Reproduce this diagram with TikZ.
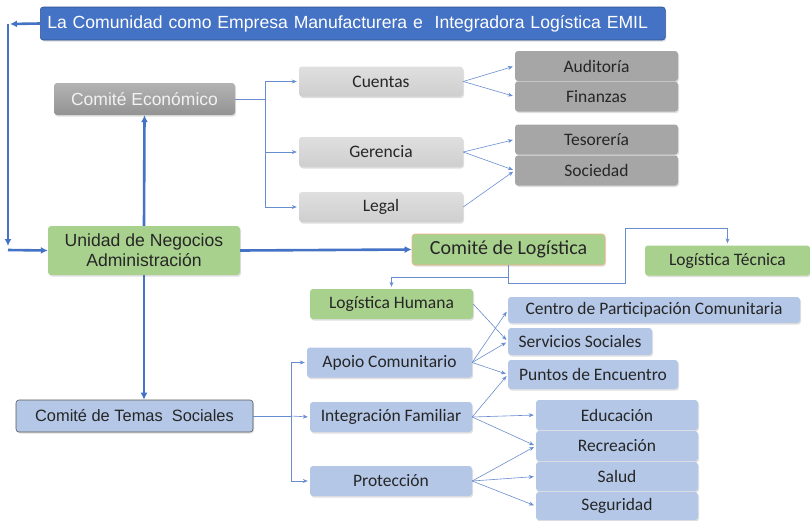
\documentclass[tikz,border=0pt]{standalone}
\usepackage{fontspec}
\setmainfont{Carlito}
\newfontfamily\arialfont{Liberation Sans}
\usetikzlibrary{arrows.meta,shadows}

\definecolor{linkblue}{HTML}{4472C4}
\definecolor{titleblue}{HTML}{4472C4}
\definecolor{titleedge}{HTML}{2F528F}
\definecolor{boxgreen}{HTML}{A9D18E}
\definecolor{boxblue}{HTML}{B4C7E7}
\definecolor{boxgray}{HTML}{A6A6A6}
\definecolor{orangeedge}{HTML}{F4B183}
\definecolor{inktext}{HTML}{262626}

\tikzset{
  box/.style={rounded corners=3pt, inner sep=0pt, minimum height=30pt,
    text=inktext, font=\fontsize{17.5}{19}\selectfont,
    drop shadow={opacity=0.25, shadow xshift=1pt, shadow yshift=-1.5pt}},
  greenbox/.style={box, fill=boxgreen},
  bluebox/.style={box, fill=boxblue},
  graybox/.style={box, fill=boxgray},
  lightbox/.style={box, top color=gray!25, bottom color=gray!38},
  bigarr/.style={draw=linkblue, line width=2.6pt, -{Latex[length=7pt,width=7pt]}},
  thinline/.style={draw=linkblue!80, line width=0.6pt},
  thinarr/.style={thinline, -{Stealth[length=5pt,width=4pt]}, shorten >=2pt}
}

\begin{document}
\begin{tikzpicture}[x=1pt, y=-1pt]
    \useasboundingbox (0,0) rectangle (810,520);

    % Titel
    \node[box, fill=titleblue, draw=titleedge, line width=0.6pt, text=white,
      minimum width=625pt, minimum height=33pt, anchor=west, text width=611pt,
      align=left, font=\arialfont\fontsize{17.6}{20}\selectfont]
      (title) at (40,23.5) {La Comunidad como Empresa Manufacturera e\ \ Integradora Logística EMIL};

    % Comité Económico
    \node[box, top color=gray!60, bottom color=gray!85, text=white!95!black,
      minimum width=181pt, minimum height=32pt, font=\arialfont\fontsize{17.5}{19}\selectfont]
      (eco) at (144.5,99) {Comité Económico};
    \node[lightbox, minimum width=164pt] (cuentas) at (381,81.5) {Cuentas};
    \node[lightbox, minimum width=164pt] (gerencia) at (381,152) {Gerencia};
    \node[lightbox, minimum width=164pt] (legal) at (381,207) {Legal};
    \node[graybox, minimum width=163pt] (auditoria) at (596.5,66) {Auditoría};
    \node[graybox, minimum width=163pt] (finanzas) at (596.5,96.5) {Finanzas};
    \node[graybox, minimum width=163pt] (tesoreria) at (596.5,139.5) {Tesorería};
    \node[graybox, minimum width=163pt] (sociedad) at (596.5,170.5) {Sociedad};

    % Unidad de Negocios
    \node[greenbox, minimum width=192pt, minimum height=49pt, align=center,
      font=\arialfont\fontsize{17.6}{20}\selectfont]
      (unidad) at (144,250.5) {Unidad de Negocios\\Administración};

    % Logística
    \node[greenbox, draw=orangeedge, line width=0.6pt, minimum width=193pt,
      minimum height=31pt, font=\fontsize{20}{22}\selectfont]
      (comlog) at (508.5,249.5) {Comité de Logística};
    \node[greenbox, minimum width=165pt] (logtec) at (727.5,260.5) {Logística Técnica};
    \node[greenbox, minimum width=163pt] (loghum) at (391.5,304) {Logística Humana};

    % Temas Sociales
    \node[bluebox, draw=gray!70!black, line width=0.6pt, minimum width=237pt,
      minimum height=32pt, font=\arialfont\fontsize{16.4}{18}\selectfont]
      (temas) at (134.5,416) {Comité de Temas\ \ Sociales};
    \node[bluebox, minimum width=165pt] (apoio) at (389.5,362.5) {Apoio Comunitario};
    \node[bluebox, minimum width=162pt] (integracion) at (391,417) {Integración Familiar};
    \node[bluebox, minimum width=162pt] (proteccion) at (391,481) {Protección};
    \node[bluebox, minimum width=292pt, minimum height=26pt] (centro) at (654,310) {Centro de Participación Comunitaria};
    \node[bluebox, minimum width=144pt, minimum height=27pt] (servicios) at (580,341.5) {Servicios Sociales};
    \node[bluebox, minimum width=170pt, minimum height=29pt] (puntos) at (593,374.5) {Puntos de Encuentro};
    \node[bluebox, minimum width=162pt] (educacion) at (617,415) {Educación};
    \node[bluebox, minimum width=162pt] (recreacion) at (617,446) {Recreación};
    \node[bluebox, minimum width=162pt, minimum height=29pt] (salud) at (617,476.5) {Salud};
    \node[bluebox, minimum width=162pt, minimum height=28pt] (seguridad) at (617,506) {Seguridad};

    % Hilfspunkte
    \coordinate (t1) at (10,24);
    \coordinate (t2) at (8,24);
    \coordinate (t3) at (8,246);
    \coordinate (t4) at (8,250);
    \coordinate (ej) at (265,99);
    \coordinate (lt1) at (625,283);
    \coordinate (lt2) at (625,228);
    \coordinate (lh0) at (509,277);
    \coordinate (ts) at (291,416);

    % dicke Pfeile
    \draw[bigarr] (title.west) -- (t1);
    \draw[bigarr] (t2) -- (t3);
    \draw[bigarr] (t4) -- (unidad.west);
    \draw[bigarr] (unidad.north) -- (eco.south);
    \draw[bigarr] (unidad.east) -- (comlog.west);
    \draw[bigarr] (unidad.south) -- (unidad.south |- temas.north);

    % Comité Económico
    \draw[thinline] (eco.east) -- (ej);
    \draw[thinarr] (ej) |- (cuentas.west);
    \draw[thinarr] (ej) |- (gerencia.west);
    \draw[thinarr] (ej) |- (legal.west);
    \draw[thinarr] (cuentas.east) -- (auditoria.west);
    \draw[thinarr] (cuentas.east) -- (finanzas.west);
    \draw[thinarr] (gerencia.east) -- (tesoreria.west);
    \draw[thinarr] (gerencia.east) -- (sociedad.west);
    \draw[thinarr] (legal.east) -- (sociedad.west);

    % Logística
    \draw[thinarr] (comlog.south) |- (lt1) -- (lt2) -| (logtec.north);
    \draw[thinarr] (lh0) -| (loghum.north);
    \draw[thinarr] (loghum.east) -- (servicios.west);

    % Temas Sociales
    \draw[thinline] (temas.east) -- (ts);
    \draw[thinarr] (ts) |- (apoio.west);
    \draw[thinarr] (ts) -- (integracion.west);
    \draw[thinarr] (ts) |- (proteccion.west);
    \draw[thinarr] (apoio.east) -- (centro.west);
    \draw[thinarr] (apoio.east) -- (servicios.west);
    \draw[thinarr] (apoio.east) -- (puntos.west);
    \draw[thinarr] (integracion.east) -- (puntos.west);
    \draw[thinarr] (integracion.east) -- (educacion.west);
    \draw[thinarr] (integracion.east) -- (recreacion.west);
    \draw[thinarr] (proteccion.east) -- (recreacion.west);
    \draw[thinarr] (proteccion.east) -- (salud.west);
    \draw[thinarr] (proteccion.east) -- (seguridad.west);
\end{tikzpicture}
\end{document}
